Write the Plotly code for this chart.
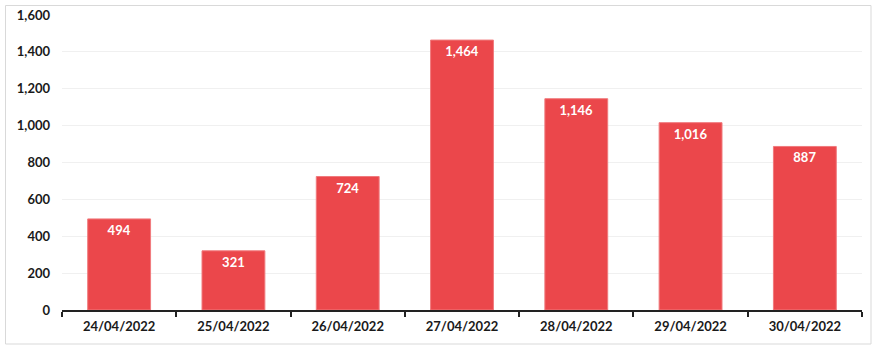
import plotly.graph_objects as go

dates = ["24/04/2022", "25/04/2022", "26/04/2022", "27/04/2022", "28/04/2022", "29/04/2022", "30/04/2022"]
values = [494, 321, 724, 1464, 1146, 1016, 887]
y_ticks = [0, 200, 400, 600, 800, 1000, 1200, 1400, 1600]

W, H = 880, 351
L, R, T, B = 62, 18, 15, 41
pw, ph = W - L - R, H - T - B

def px_x(p):
    return (p - L) / pw

def px_y(p):
    return (H - B - p) / ph

fig = go.Figure(go.Bar(
    x=dates, y=values,
    marker=dict(color="#EB474B", line=dict(color="#F07A7D", width=1)),
    width=0.55,
    text=[f"{v:,}" for v in values],
    textposition="inside",
    insidetextanchor="end",
    textfont=dict(color="white", size=13, family="Lato", weight="bold"),
    textangle=0,
    cliponaxis=False,
))

fig.update_layout(
    width=W, height=H,
    margin=dict(l=L, r=R, t=T, b=B, autoexpand=False),
    paper_bgcolor="white", plot_bgcolor="white",
    showlegend=False,
    font=dict(family="Lato", size=13, color="#1a1a1a"),
    xaxis=dict(
        automargin=False,
        showline=True, linecolor="#222", linewidth=1.5,
        ticks="outside", tickson="boundaries", ticklen=5, tickcolor="#222", tickwidth=1.5,
        tickfont=dict(size=13, family="Lato", weight="bold", color="#1a1a1a"),
        showgrid=False, ticklabelstandoff=4,
    ),
    yaxis=dict(
        automargin=False,
        range=[0, 1600], tickvals=y_ticks, tickformat=",",
        showgrid=True, gridcolor="#F0F0F0", gridwidth=1,
        zeroline=False, showline=False,
        tickfont=dict(size=13, family="Lato", weight="bold", color="#1a1a1a"),
        ticks="", ticklabelstandoff=11,
    ),
    shapes=[dict(
        type="rect", xref="paper", yref="paper",
        x0=px_x(5.5), x1=px_x(871), y0=px_y(344), y1=px_y(5.5),
        line=dict(color="#D9D9D9", width=1), fillcolor="rgba(0,0,0,0)", layer="below",
    )],
)

fig.write_html("out.html")
